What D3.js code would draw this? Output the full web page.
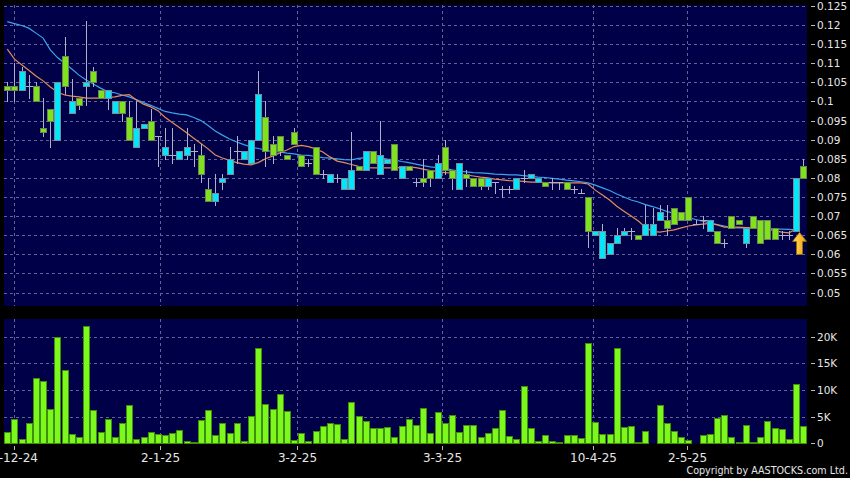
<!DOCTYPE html>
<html><head><meta charset="utf-8">
<script src="https://cdn.jsdelivr.net/npm/d3@7"></script>
<style>html,body{margin:0;padding:0;background:#000;}svg{display:block;}</style>
</head><body><svg id="c" width="850" height="478"></svg>
<script>
// ---- data ----
const openP = [
.104,.104,.103,.104,.104,.093,.098,.090,.112,.097,
.101,.104,.108,.103,.101,.097,.100,.096,.088,.093,
.095,.091,.086,.086,.085,.086,.087,.086,.077,.074,
.079,.081,.087,.085,.084,.090,.096,.089,.091,.086,
.092,.086,.084,.088,.081,.079,.080,.077,.077,.083,
.082,.087,.081,.084,.089,.080,.083,.079,.080,.082,
.080,.088,.082,.077,.081,.080,.080,.078,.079,.077,
.077,.077,.080,.080,.079,.079,.079,.079,.079,.077,
.076,.075,.065,.059,.060,.063,.065,.066,.065,.065,
.065,.069,.069,.072,.071,.075,.068,.069,.066,.066,
.063,.070,.069,.063,.070,.069,.069,.067,.065,.065,
.066,.083];
const highP = [
.105,.110,.109,.107,.105,.101,.098,.105,.117,.106,
.101,.121,.109,.103,.103,.100,.100,.100,.100,.094,
.098,.091,.093,.093,.087,.093,.089,.089,.080,.081,
.081,.088,.091,.087,.090,.108,.100,.091,.091,.086,
.093,.086,.085,.088,.082,.081,.081,.080,.092,.083,
.087,.087,.095,.085,.089,.083,.083,.080,.085,.082,
.086,.090,.082,.084,.082,.080,.080,.080,.079,.078,
.078,.080,.082,.081,.080,.079,.080,.079,.079,.078,
.077,.075,.066,.068,.063,.067,.067,.067,.065,.073,
.072,.073,.073,.072,.071,.075,.069,.070,.069,.066,
.064,.070,.069,.067,.070,.069,.069,.067,.066,.066,
.080,.085];
const lowP = [
.100,.100,.103,.101,.100,.091,.088,.090,.102,.097,
.098,.099,.104,.101,.098,.097,.095,.090,.088,.093,
.090,.083,.085,.084,.085,.085,.083,.079,.074,.073,
.077,.081,.084,.085,.084,.090,.083,.084,.086,.085,
.089,.083,.083,.081,.080,.079,.079,.077,.077,.082,
.082,.084,.081,.084,.082,.080,.082,.078,.078,.078,
.080,.081,.077,.077,.078,.078,.077,.077,.076,.075,
.076,.077,.079,.080,.079,.078,.077,.077,.077,.076,
.076,.062,.065,.059,.060,.063,.065,.064,.064,.065,
.065,.069,.065,.068,.069,.069,.068,.067,.066,.063,
.062,.067,.068,.062,.067,.063,.064,.064,.064,.064,
.066,.080];
const closeP = [
.103,.103,.108,.104,.100,.092,.095,.105,.104,.100,
.099,.105,.105,.101,.103,.100,.097,.090,.093,.094,
.090,.091,.088,.086,.087,.088,.087,.081,.074,.076,
.080,.085,.087,.087,.090,.102,.087,.086,.087,.085,
.089,.083,.084,.081,.081,.081,.080,.080,.082,.082,
.087,.084,.086,.085,.082,.083,.082,.079,.079,.080,
.084,.082,.080,.084,.080,.078,.078,.080,.079,.077,
.077,.080,.080,.081,.080,.078,.079,.079,.077,.077,
.076,.066,.066,.066,.063,.065,.066,.066,.064,.068,
.068,.071,.067,.068,.069,.069,.068,.069,.069,.063,
.063,.067,.068,.067,.067,.063,.064,.064,.065,.065,
.080,.080];
const volume = [
2200,4500,900,3900,12300,11600,6400,20000,13700,1700,
1200,22100,6200,2100,4500,1200,3800,7100,750,1200,
2100,1700,1600,2000,2500,400,200,4400,6200,1600,
3800,2000,3800,500,5200,17900,7400,6400,9200,6100,
600,1900,500,2400,3200,3750,3600,900,7800,5200,
4100,2900,2900,3100,1200,3200,4600,3400,6600,1900,
5900,3750,5400,2200,3400,3400,1100,1900,2900,6200,
1300,800,10750,2900,500,1600,500,300,1500,1500,
1000,18900,4000,1800,1800,17900,3000,3200,200,2400,
0,7200,3750,2400,1200,600,0,1600,1800,4700,
5250,1200,200,3400,300,1200,4200,2900,2600,750,
11100,3200];
const ma20 = [
.1209,.1204,.1199,.1192,.1179,.1166,.1135,.1115,.1100,.1085,
.1069,.1056,.1046,.1035,.1026,.1023,.1017,.1012,.1005,.0997,
.0990,.0982,.0974,.0970,.0967,.0965,.0958,.0950,.0937,.0923,
.0912,.0902,.0894,.0887,.0881,.0877,.0873,.0869,.0868,.0865,
.0863,.0860,.0859,.0856,.0853,.0852,.0850,.0848,.0847,.0851,
.0853,.0855,.0852,.0849,.0847,.0843,.0840,.0836,.0832,.0829,
.0827,.0825,.0821,.0818,.0816,.0814,.0813,.0812,.0810,.0809,
.0808,.0808,.0806,.0804,.0802,.0801,.0799,.0797,.0794,.0792,
.0790,.0787,.0781,.0774,.0767,.0758,.0750,.0742,.0737,.0730,
.0725,.0719,.0712,.0707,.0702,.0696,.0691,.0687,.0682,.0678,
.0674,.0670,.0669,.0669,.0669,.0669,.0668,.0666,.0666,.0665,.0664];
const ma10 = [
.1137,.1111,.1096,.1082,.1067,.1054,.1038,.1025,.1017,.1014,
.1012,.1009,.1009,.1009,.1011,.1012,.1016,.1018,.1004,.0993,
.0986,.0976,.0959,.0945,.0932,.0918,.0904,.0890,.0876,.0860,
.0852,.0846,.0840,.0836,.0834,.0840,.0850,.0857,.0865,.0873,
.0882,.0885,.0882,.0876,.0868,.0855,.0844,.0840,.0835,.0830,
.0827,.0826,.0826,.0826,.0826,.0827,.0828,.0827,.0823,.0819,
.0817,.0814,.0813,.0810,.0808,.0805,.0802,.0800,.0797,.0795,
.0793,.0792,.0791,.0789,.0789,.0788,.0787,.0787,.0787,.0787,
.0787,.0784,.0768,.0755,.0742,.0726,.0713,.0700,.0687,.0671,
.0660,.0658,.0661,.0664,.0669,.0674,.0677,.0679,.0681,.0677,
.0671,.0671,.0671,.0670,.0669,.0668,.0666,.0662,.0658,.0656,.0666];
const dateTickPos = [1, 21.3, 40.4, 60.6, 81.7, 94.8];
const dateTickLabels = ["2-12-24","2-1-25","3-2-25","3-3-25","10-4-25","2-5-25"];
const priceTicks = [0.05,0.055,0.06,0.065,0.07,0.075,0.08,0.085,0.09,0.095,0.1,0.105,0.11,0.115,0.12,0.125];
const priceTickLabels = ["0.05","0.055","0.06","0.065","0.07","0.075","0.08","0.085","0.09","0.095","0.1","0.105","0.11","0.115","0.12","0.125"];
const volTicks = [0,5000,10000,15000,20000];
const volTickLabels = ["0","5K","10K","15K","20K"];
const markerIdx = 110;
const copyright = "Copyright by AASTOCKS.com Ltd.";

// ---- layout ----
const W = 850, H = 478;
const P = {l:4, r:807, t:5, b:306};
const V = {l:4, r:807, t:319, b:443.5};
const svg = d3.select("#c");
const n = closeP.length;

const x = d3.scaleLinear().domain([0, n-1]).range([7.3, 803.2]);
const y = d3.scaleLinear().domain([0.05, 0.125]).range([292.5, 6]);
const yv = d3.scaleLinear().domain([0, 20000]).range([443.3, 336.7]);

svg.append("rect").attr("width",W).attr("height",H).attr("fill","#000");
svg.append("rect").attr("x",P.l).attr("y",P.t).attr("width",P.r-P.l).attr("height",P.b-P.t).attr("fill","#000048");
svg.append("rect").attr("x",V.l).attr("y",V.t).attr("width",V.r-V.l).attr("height",V.b-V.t).attr("fill","#000048");

const gridColor = "#62629a";
const grid = svg.append("g").attr("stroke",gridColor).attr("stroke-width",1).attr("stroke-dasharray","3,3").attr("shape-rendering","crispEdges");
priceTicks.forEach(t=>{ const yy=Math.round(y(t))+0.5;
  grid.append("line").attr("x1",P.l).attr("x2",P.r).attr("y1",yy).attr("y2",yy);});
volTicks.slice(1).forEach(t=>{ const yy=Math.round(yv(t))+0.5;
  grid.append("line").attr("x1",V.l).attr("x2",V.r).attr("y1",yy).attr("y2",yy);});
dateTickPos.forEach(t=>{ const xx=Math.round(x(t))+0.5;
  grid.append("line").attr("x1",xx).attr("x2",xx).attr("y1",P.t).attr("y2",P.b);
  grid.append("line").attr("x1",xx).attr("x2",xx).attr("y1",V.t).attr("y2",V.b);});

// moving averages
const lineGen = d3.line().x((d,i)=>x(i)).y(d=>y(d));
svg.append("path").datum(ma20).attr("d",lineGen).attr("fill","none").attr("stroke","#3ba3ea").attr("stroke-width",1.2);
svg.append("path").datum(ma10).attr("d",lineGen).attr("fill","none").attr("stroke","#e38c5c").attr("stroke-width",1.2);

// candles
const cg = svg.append("g").attr("shape-rendering","crispEdges");
for (let i=0;i<n;i++){
  const L = Math.round(x(i)-3);
  const cx = L+3.5;
  const o=openP[i], c=closeP[i];
  cg.append("line").attr("x1",cx).attr("x2",cx).attr("y1",Math.round(y(highP[i]))).attr("y2",Math.round(y(lowP[i]))+1)
    .attr("stroke","#b0b0c8").attr("stroke-width",1);
  if (o===c){
    const yy=Math.round(y(o))+0.5;
    cg.append("line").attr("x1",L).attr("x2",L+7).attr("y1",yy).attr("y2",yy).attr("stroke","#b0b0c8");
  } else {
    const up = c>o;
    const top=Math.round(y(Math.max(o,c))), bot=Math.round(y(Math.min(o,c)));
    cg.append("rect").attr("x",L+0.5).attr("y",top+0.5).attr("width",6).attr("height",Math.max(1,bot-top))
      .attr("fill", up?"#00e6fa":"#7ee21c").attr("stroke", up?"#7a8c9c":"#6c8454").attr("stroke-width",1);
  }
}

// volume bars (zero-volume days draw nothing)
const vg = svg.append("g").attr("shape-rendering","crispEdges");
volume.forEach((v,i)=>{
  if (v <= 0) return;
  const L = Math.round(x(i)-3);
  const top = Math.round(yv(v));
  const h = Math.max(1, 443 - top);
  vg.append("rect").attr("x",L+0.5).attr("y",443-h+0.5).attr("width",6).attr("height",h)
    .attr("fill","#7cf81c").attr("stroke","#3f8f0c").attr("stroke-width",1);
});

// marker arrow under bar
const ax = x(markerIdx)+3.5, ay = y(lowP[markerIdx])+1;
const grad = svg.append("defs").append("linearGradient").attr("id","ag").attr("x1",0).attr("x2",1).attr("y1",0).attr("y2",0);
grad.append("stop").attr("offset","0%").attr("stop-color","#ffe070");
grad.append("stop").attr("offset","100%").attr("stop-color","#f0a000");
svg.append("path")
  .attr("d",`M${ax},${ay} L${ax+7},${ay+9} L${ax+3},${ay+9} L${ax+3},${ay+22} L${ax-3},${ay+22} L${ax-3},${ay+9} L${ax-7},${ay+9} Z`)
  .attr("fill","url(#ag)").attr("stroke","#a07000").attr("stroke-width",0.8);

// right axis labels
const txt = "#e6e6e6";
const ra = svg.append("g").attr("font-family","DejaVu Sans").attr("font-size",10.5).attr("fill",txt);
priceTicks.forEach((t,i)=>{
  const yy = Math.round(y(t))+0.5;
  svg.append("line").attr("x1",811).attr("x2",815).attr("y1",yy).attr("y2",yy).attr("stroke","#bbb").attr("shape-rendering","crispEdges");
  ra.append("text").attr("x",817).attr("y",yy).attr("dy","0.36em").text(priceTickLabels[i]);
});
volTicks.forEach((t,i)=>{
  const yy = Math.round(yv(t))+0.5;
  svg.append("line").attr("x1",811).attr("x2",815).attr("y1",yy).attr("y2",yy).attr("stroke","#bbb").attr("shape-rendering","crispEdges");
  ra.append("text").attr("x",817).attr("y",yy).attr("dy","0.36em").text(volTickLabels[i]);
});

// bottom date labels
const ba = svg.append("g").attr("font-family","DejaVu Sans").attr("font-size",12).attr("fill",txt).attr("text-anchor","middle");
dateTickPos.forEach((t,i)=>{
  const xx=Math.round(x(t))+0.5;
  svg.append("line").attr("x1",xx).attr("x2",xx).attr("y1",446).attr("y2",450).attr("stroke","#bbb").attr("shape-rendering","crispEdges");
  ba.append("text").attr("x",xx).attr("y",462).text(dateTickLabels[i]);
});

svg.append("text").attr("x",848).attr("y",474).attr("text-anchor","end").attr("font-family","DejaVu Sans")
  .attr("font-size",9.6).attr("fill",txt).text(copyright);
</script></body></html>
